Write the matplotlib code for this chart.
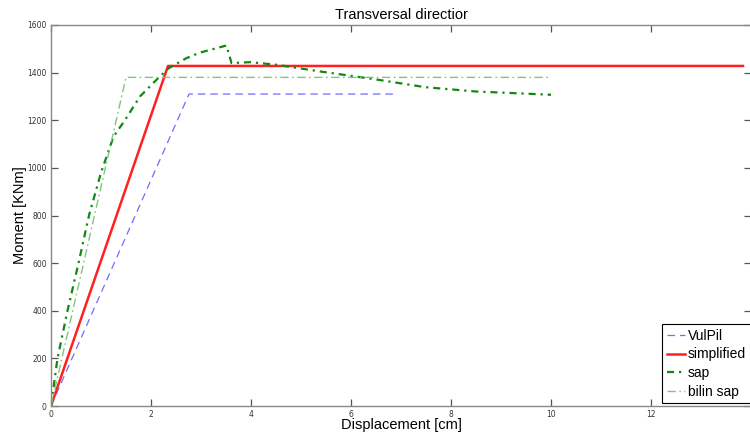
import matplotlib
matplotlib.use("Agg")
import matplotlib.pyplot as plt

# ---- data ----
vulpil_x = [0, 2.76, 6.88]
vulpil_y = [0, 1310, 1310]

simp_x = [0, 2.34, 13.84]
simp_y = [0, 1428, 1428]

sap_x = [0, 0.13, 0.33, 0.55, 0.76, 1.0, 1.25, 1.48, 1.78, 2.11, 2.35, 2.71,
         2.98, 3.51, 3.61, 3.98, 4.51, 5.38, 6.48, 7.48, 8.48, 10.0]
sap_y = [0, 200, 400, 600, 800, 980, 1131, 1201, 1300, 1370, 1418, 1461,
         1484, 1514, 1440, 1444, 1433, 1405, 1372, 1339, 1321, 1307]

bilin_x = [0, 1.5, 10.0]
bilin_y = [0, 1380, 1380]

labels = ["VulPil", "simplified", "sap", "bilin sap"]
xticks = [0, 2, 4, 6, 8, 10, 12]
yticks = [0, 200, 400, 600, 800, 1000, 1200, 1400, 1600]

W, H = 750, 438
fig = plt.figure(figsize=(W / 100, H / 100), dpi=100)
ax = fig.add_axes([51 / W, (H - 406) / H, 700 / W, 381 / H])

ax.plot(vulpil_x, vulpil_y, color="#6e6eff", lw=0.9, dashes=(6, 4), label=labels[0])
ax.plot(simp_x, simp_y, color="#ff2020", lw=1.8, label=labels[1])
ax.plot(sap_x, sap_y, color="#118811", lw=1.6, dashes=(3.2, 2.2, 1, 2.2), label=labels[2])
ax.plot(bilin_x, bilin_y, color="#80c480", lw=1.0, dashes=(6, 2.5, 1.2, 2.5), label=labels[3])

ax.set_xlim(0, 14)
ax.set_ylim(0, 1600)
ax.set_xticks(xticks)
ax.set_yticks(yticks)
ax.tick_params(direction="in", length=5, width=0.9, color="#555555",
               labelsize=5.5, top=True, right=True, pad=3)
for lab in ax.get_xticklabels() + ax.get_yticklabels():
    lab.set_family("DejaVu Sans")
    lab.set_color("#333333")
for s in ax.spines.values():
    s.set_color("#888888")
    s.set_linewidth(1.0)

fs = "Liberation Sans"
ax.set_title("Transversal directior", fontsize=10.5, family=fs, pad=4)
ax.set_xlabel("Displacement [cm]", fontsize=10.5, family=fs)
ax.xaxis.set_label_coords(0.5, -(418 - 406) / 381)
ax.set_ylabel("Moment [KNm]", fontsize=10.5, family=fs)
ax.yaxis.set_label_coords(-(51 - 27) / 700, 0.5)

leg = fig.legend(loc="upper left", bbox_to_anchor=(662 / W, 1 - 324 / H),
                 prop={"family": fs, "size": 10}, frameon=True, fancybox=False,
                 edgecolor="black", framealpha=1, handlelength=1.3,
                 handletextpad=0.2, labelspacing=0.33, borderpad=0.35,
                 borderaxespad=0)
leg.get_frame().set_linewidth(0.8)

fig.savefig("out.png", dpi=100)
